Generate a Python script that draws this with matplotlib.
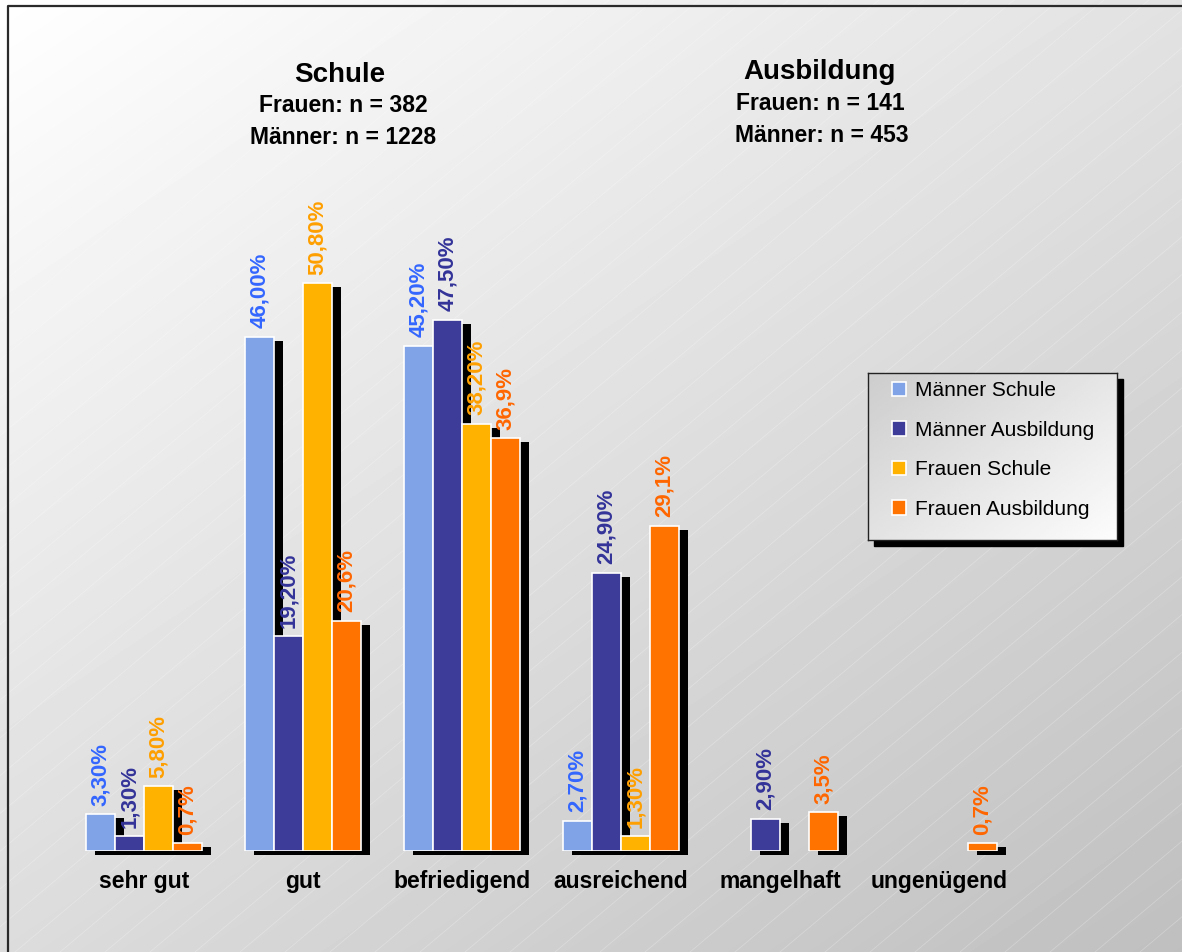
import numpy as np
import matplotlib
matplotlib.use('Agg')
import matplotlib.pyplot as plt
from matplotlib.patches import Patch, Rectangle
from matplotlib.transforms import ScaledTranslation

plt.rcParams['font.family'] = ['Liberation Sans', 'DejaVu Sans']

# Daten (Anteile in %)
noten = ['sehr gut', 'gut', 'befriedigend', 'ausreichend', 'mangelhaft', 'ungenügend']
reihen = ['Männer Schule', 'Männer Ausbildung', 'Frauen Schule', 'Frauen Ausbildung']

maenner_schule = [3.3, 46.0, 45.2, 2.7, np.nan, np.nan]
maenner_ausbildung = [1.3, 19.2, 47.5, 24.9, 2.9, np.nan]
frauen_schule = [5.8, 50.8, 38.2, 1.3, np.nan, np.nan]
frauen_ausbildung = [0.7, 20.6, 36.9, 29.1, 3.5, 0.7]

nachkommastellen = [2, 2, 2, 1]

balken_farben = ['#80A2E6', '#3D3D99', '#FFB300', '#FF7300']
text_farben = ['#3366FF', '#333399', '#FF9F00', '#FF6600']

W, H = 1182, 952
fig = plt.figure(figsize=(W / 100, H / 100), dpi=100)

# Hintergrund mit Verlauf
bg = fig.add_axes([0, 0, 1, 1], zorder=0)
xx, yy = np.meshgrid(np.arange(W), np.arange(H))
grau = (255 - 29 * xx / W - 35 * yy / H) / 255
bg.imshow(grau, cmap='gray', vmin=0, vmax=1, extent=(0, W, H, 0), aspect='auto')
for c in np.arange(-1200, W, 45):
    bg.plot([c, c + 1134], [H, 0], color='white', lw=0.6, alpha=0.25)
bg.plot([7.5, 7.5, W + 5], [H + 5, 5.5, 5.5], color='#2a2a2a', lw=1.6)
bg.set_xlim(0, W)
bg.set_ylim(H, 0)
bg.axis('off')

# Überschriften
bg.text(340, 75, 'Schule', ha='center', va='center', fontsize=20, fontweight='bold')
bg.text(343, 106, 'Frauen: n = 382', ha='center', va='center', fontsize=16.5, fontweight='bold')
bg.text(343, 138, 'Männer: n = 1228', ha='center', va='center', fontsize=16.5, fontweight='bold')
bg.text(820, 72, 'Ausbildung', ha='center', va='center', fontsize=20, fontweight='bold')
bg.text(820, 104, 'Frauen: n = 141', ha='center', va='center', fontsize=16.5, fontweight='bold')
bg.text(822, 136, 'Männer: n = 453', ha='center', va='center', fontsize=16.5, fontweight='bold')

# Balkendiagramm
ax = fig.add_axes([64 / W, 101 / H, 960 / W, 671 / H], zorder=1)
ax.patch.set_alpha(0)
for s in ax.spines.values():
    s.set_visible(False)

breite = 0.1825
x = np.arange(len(noten))
schatten = ax.transData + ScaledTranslation(9 / 100, -4 / 100, fig.dpi_scale_trans)

serien = [maenner_schule, maenner_ausbildung, frauen_schule, frauen_ausbildung]
for k, werte in enumerate(serien):
    pos = x + (k - 2) * breite
    werte = np.array(werte)
    ok = ~np.isnan(werte)
    ax.bar(pos[ok], werte[ok], width=breite, align='edge', color='black',
           lw=0, transform=schatten, zorder=1, clip_on=False)
    ax.bar(pos[ok], werte[ok], width=breite, align='edge', color=balken_farben[k],
           edgecolor='white', lw=1.2, zorder=2, label=reihen[k])
    for p, v in zip(pos[ok], werte[ok]):
        txt = f'{v:.{nachkommastellen[k]}f}'.replace('.', ',') + '%'
        ax.annotate(txt, (p + breite / 2, v), xytext=(0, 6), textcoords='offset points',
                    rotation=90, ha='center', va='bottom', fontsize=16,
                    fontweight='bold', color=text_farben[k], zorder=5)

ax.set_xlim(-0.503, 5.535)
ax.set_ylim(0, 60)
ax.set_xticks(x, noten, fontsize=16.5, fontweight='bold')
ax.tick_params(axis='x', length=0, pad=14)
ax.set_yticks([])

# Legende
lx0, ly0, lx1, ly1 = 868, 373, 1117, 540
bg.add_patch(Rectangle((lx0 + 6, ly0 + 6), lx1 - lx0, ly1 - ly0, color='black', zorder=3))
lax = fig.add_axes([lx0 / W, 1 - ly1 / H, (lx1 - lx0) / W, (ly1 - ly0) / H], zorder=3)
gx, gy = np.meshgrid(np.linspace(0, 1, 100), np.linspace(0, 1, 100))
lax.imshow((205 + 25 * gx + 22 * gy) / 255, cmap='gray', vmin=0, vmax=1,
           extent=(0, 1, 1, 0), aspect='auto')
lax.set_xlim(0, 1)
lax.set_ylim(1, 0)
lax.set_xticks([])
lax.set_yticks([])
for s in lax.spines.values():
    s.set_color('#222222')
    s.set_linewidth(1)
handles = [Patch(facecolor=c, edgecolor='white', lw=1.2) for c in balken_farben]
lax.legend(handles, reihen, loc='upper left', bbox_to_anchor=(0.096, 0.95),
           frameon=False, fontsize=15, handlelength=0.7, handleheight=0.7,
           handletextpad=0.4, labelspacing=0.98, borderpad=0, borderaxespad=0)

fig.savefig('out.png', dpi=100)
